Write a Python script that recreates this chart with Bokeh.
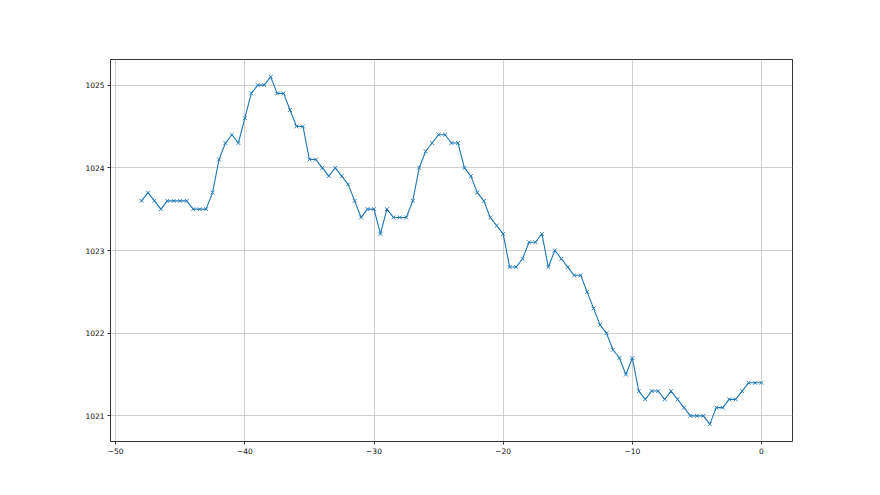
from bokeh.plotting import figure
from bokeh.models import Range1d, FixedTicker, ColumnDataSource
from bokeh.embed import file_html
from bokeh.resources import INLINE

# Data: time offset (hours) and pressure (hPa)
hours = [-48 + 0.5 * i for i in range(97)]
pressure = [
    1023.6, 1023.7, 1023.6, 1023.5, 1023.6, 1023.6, 1023.6, 1023.6, 1023.5, 1023.5,
    1023.5, 1023.7, 1024.1, 1024.3, 1024.4, 1024.3, 1024.6, 1024.9, 1025.0, 1025.0,
    1025.1, 1024.9, 1024.9, 1024.7, 1024.5, 1024.5, 1024.1, 1024.1, 1024.0, 1023.9,
    1024.0, 1023.9, 1023.8, 1023.6, 1023.4, 1023.5, 1023.5, 1023.2, 1023.5, 1023.4,
    1023.4, 1023.4, 1023.6, 1024.0, 1024.2, 1024.3, 1024.4, 1024.4, 1024.3, 1024.3,
    1024.0, 1023.9, 1023.7, 1023.6, 1023.4, 1023.3, 1023.2, 1022.8, 1022.8, 1022.9,
    1023.1, 1023.1, 1023.2, 1022.8, 1023.0, 1022.9, 1022.8, 1022.7, 1022.7, 1022.5,
    1022.3, 1022.1, 1022.0, 1021.8, 1021.7, 1021.5, 1021.7, 1021.3, 1021.2, 1021.3,
    1021.3, 1021.2, 1021.3, 1021.2, 1021.1, 1021.0, 1021.0, 1021.0, 1020.9, 1021.1,
    1021.1, 1021.2, 1021.2, 1021.3, 1021.4, 1021.4, 1021.4,
]
x_ticks = [-50, -40, -30, -20, -10, 0]
y_ticks = [1021, 1022, 1023, 1024, 1025]

src = ColumnDataSource(data=dict(x=hours, y=pressure))

xmin, xmax = min(hours), max(hours)
ymin, ymax = min(pressure), max(pressure)
mx = (xmax - xmin) * 0.05
my = (ymax - ymin) * 0.05

p = figure(
    output_backend="svg", toolbar_location=None,
    frame_width=682, frame_height=382,
    min_border_left=110, min_border_top=59, min_border_right=78, min_border_bottom=46,
    x_range=Range1d(xmin - mx, xmax + mx), y_range=Range1d(ymin - my, ymax + my),
    background_fill_color="white", border_fill_color="white",
)

p.line("x", "y", source=src, line_color="#1f77b4", line_width=1.1)
p.scatter("x", "y", source=src, marker="x", size=5.5, line_color="#1f77b4", line_width=0.9)

p.outline_line_color = "black"
p.outline_line_width = 1
p.outline_line_alpha = 0.8

for ax in (p.xaxis[0], p.yaxis[0]):
    ax.axis_line_color = None
    ax.major_tick_line_color = "black"
    ax.major_tick_line_width = 0.8
    ax.major_tick_out = 3
    ax.major_tick_in = 0
    ax.minor_tick_line_color = None
    ax.major_label_text_font = "DejaVu Sans"
    ax.major_label_text_font_size = "7.5px"
    ax.major_label_text_color = "#111111"

p.xaxis[0].ticker = FixedTicker(ticks=x_ticks)
p.yaxis[0].ticker = FixedTicker(ticks=y_ticks)
p.xaxis[0].major_label_overrides = {t: str(t).replace("-", "\u2212") for t in x_ticks}
p.yaxis[0].major_label_overrides = {t: str(t) for t in y_ticks}
p.xaxis[0].major_label_standoff = 3
p.yaxis[0].major_label_standoff = 3

for g in (p.xgrid[0], p.ygrid[0]):
    g.grid_line_color = "#c4c4c4"
    g.grid_line_width = 0.8

open("out.html", "w").write(file_html(p, INLINE))
